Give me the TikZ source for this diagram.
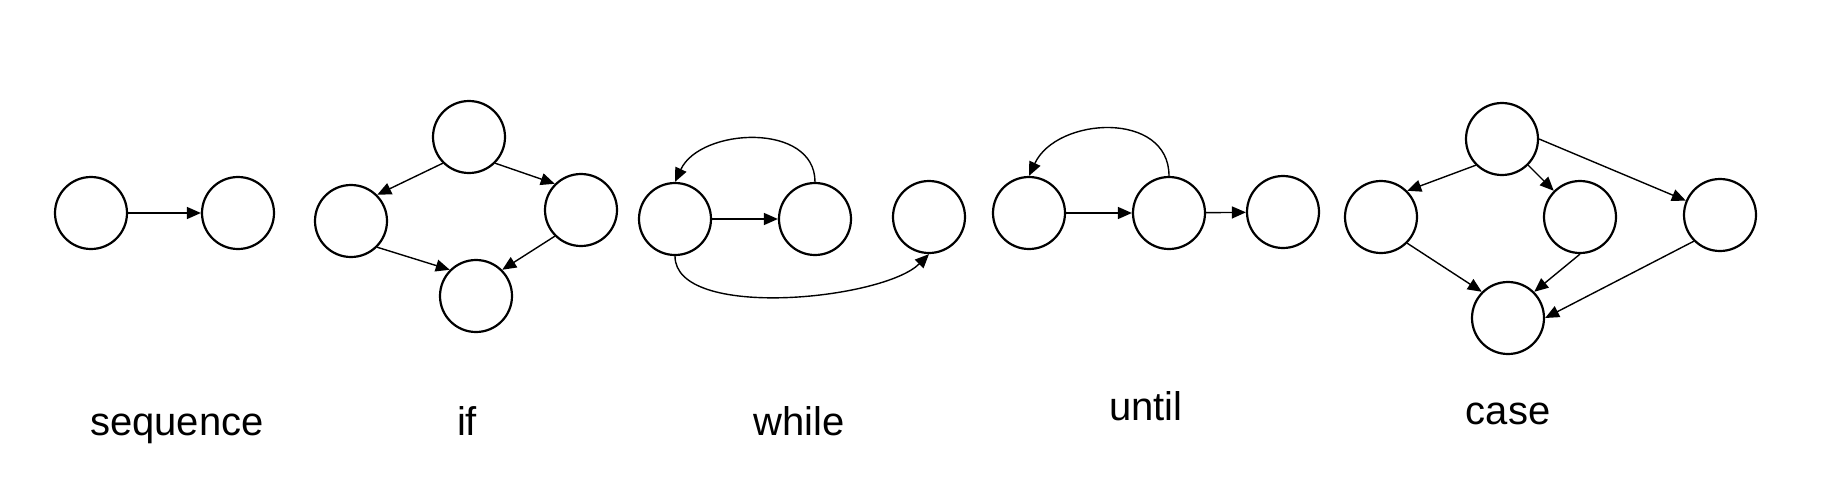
\documentclass[tikz,border=0pt]{standalone}
\usepackage{fontspec}
\setmainfont{Liberation Sans}
\usetikzlibrary{arrows.meta}

\begin{document}
\begin{tikzpicture}[x=0.5pt,y=-0.5pt,
    blob/.style={circle,draw,line width=1.1pt,minimum size=36pt,inner sep=0pt},
    flow/.style={line width=0.7pt,-{Triangle[length=7pt,width=6pt]}},
    caption/.style={anchor=base,font=\fontsize{20}{24}\selectfont}]

    \useasboundingbox (0,0) rectangle (1827,499);

    % sequence
    \node[blob] (s1) at (91,213) {};
    \node[blob] (s2) at (238,213) {};
    \draw[flow] (s1) -- (s2);
    \node[caption] (seqtext) at (177,435) {sequence};

    % if
    \node[blob] (i0) at (469,137) {};
    \node[blob] (i1) at (351,221) {};
    \node[blob] (i2) at (581,210) {};
    \node[blob] (i3) at (476,296) {};
    \draw[flow] (i0.south west) -- (i1.north east);
    \draw[flow] (i0.south east) -- (i2.north west);
    \draw[flow] (i1.south east) -- (i3.north west);
    \draw[flow] (i2.south west) -- (i3.north east);
    \node[caption] (iftext) at (467,435) {if};

    % while
    \node[blob] (w1) at (675,219) {};
    \node[blob] (w2) at (815,219) {};
    \node[blob] (w3) at (929,217) {};
    \draw[flow] (w1) -- (w2);
    \draw[flow] (w2.north) to[out=90,in=65,looseness=1.1] (w1.north);
    \draw[flow] (w1.south) to[out=-90,in=-135,looseness=0.65] (w3.south);
    \node[caption] (whiletext) at (799,435) {while};

    % until
    \node[blob] (u1) at (1029,213) {};
    \node[blob] (u2) at (1169,213) {};
    \node[blob] (u3) at (1283,212) {};
    \draw[flow] (u1) -- (u2);
    \draw[flow] (u2) -- (u3);
    \draw[flow] (u2.north) to[out=90,in=65,looseness=1.2] (u1.north);
    \node[caption] (untiltext) at (1146,420) {until};

    % case
    \node[blob] (k0) at (1502,139) {};
    \node[blob] (k1) at (1381,217) {};
    \node[blob] (k2) at (1580,217) {};
    \node[blob] (k3) at (1720,215) {};
    \node[blob] (k4) at (1508,318) {};
    \draw[flow] (k0.south west) -- (k1.north east);
    \draw[flow] (k0.south east) -- (k2.north west);
    \draw[flow] (k0.east) -- (k3);
    \draw[flow] (k1.south east) -- (k4.north west);
    \draw[flow] (k2.south) -- (k4.north east);
    \draw[flow] (k3.south west) -- (k4.east);
    \node[caption] (casetext) at (1508,424) {case};
  \end{tikzpicture}
\end{document}
